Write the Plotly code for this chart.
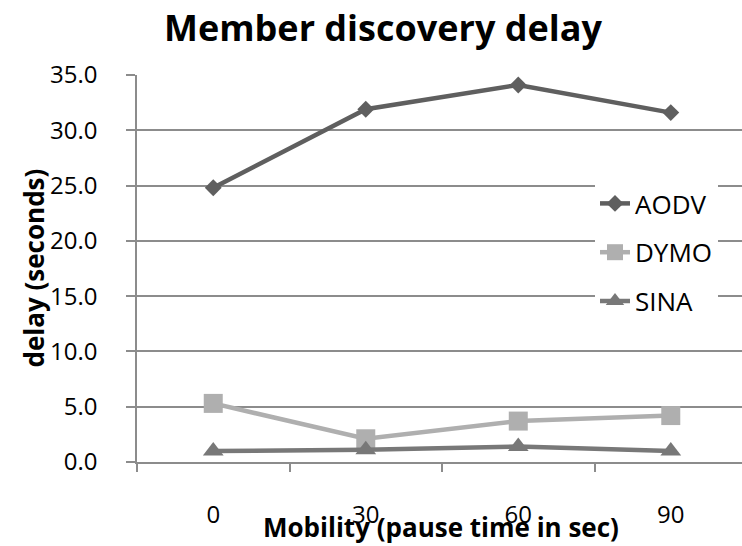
import plotly.graph_objects as go

categories = ["0", "30", "60", "90"]
aodv = [24.8, 31.9, 34.1, 31.6]
dymo = [5.3, 2.1, 3.7, 4.2]
sina = [1.0, 1.1, 1.4, 1.0]
y_ticks = [0, 5, 10, 15, 20, 25, 30, 35]

W, H = 742, 546
L, R, T, B = 137, 0, 75, 84
FONT = "Open Sans"

fig = go.Figure()
fig.add_trace(go.Scatter(x=categories, y=aodv, name="AODV", mode="lines+markers",
                         legendgroup="a",
                         line=dict(color="#5f5f5f", width=4.5),
                         marker=dict(symbol="diamond", size=13, color="#5f5f5f"),
                         cliponaxis=False))
fig.add_trace(go.Scatter(x=categories, y=dymo, name="DYMO", mode="lines+markers",
                         legendgroup="b",
                         line=dict(color="#afafaf", width=4.5),
                         marker=dict(symbol="square", size=19, color="#afafaf"),
                         cliponaxis=False))
fig.add_trace(go.Scatter(x=categories, y=sina, name="SINA", mode="lines+markers",
                         legendgroup="c",
                         line=dict(color="#787878", width=4.5),
                         marker=dict(symbol="triangle-up", size=18, color="#787878"),
                         cliponaxis=False))

pw = W - L - R
ph = H - T - B

fig.update_layout(
    width=W, height=H,
    margin=dict(l=L, r=R, t=T, b=B, autoexpand=False),
    paper_bgcolor="white", plot_bgcolor="white",
    font=dict(family=FONT, color="black"),
    title=dict(text="<b>Member discovery delay</b>", x=383 / W, xanchor="center",
               y=1 - 28 / H, yanchor="middle", yref="container",
               font=dict(size=36, family=FONT, color="black")),
    showlegend=True,
    legend=dict(x=(595 - L) / pw, xanchor="left", y=(H - B - 180) / ph, yanchor="top",
                bgcolor="white", borderwidth=0, font=dict(size=26, family=FONT),
                traceorder="grouped", tracegroupgap=12),
    xaxis=dict(type="category", range=[-0.5, 3.467], tickson="boundaries",
               ticks="outside", ticklen=8, tickcolor="#8c8c8c", tickwidth=1.5,
               showline=True, linecolor="#8c8c8c", linewidth=1.5,
               showgrid=False, zeroline=False,
               tickfont=dict(size=24, family=FONT), ticklabelstandoff=30),
    yaxis=dict(range=[0, 35], tickvals=y_ticks, tickformat=".1f",
               ticks="outside", ticklen=9, tickcolor="#8c8c8c", tickwidth=1.5,
               showline=True, linecolor="#8c8c8c", linewidth=1.5,
               showgrid=True, gridcolor="#8c8c8c", gridwidth=1.5, zeroline=False,
               tickfont=dict(size=24, family=FONT), ticklabelstandoff=24),
    annotations=[
        dict(text="<b>Mobility (pause time in sec)</b>", xref="paper", yref="paper",
             x=(441 - L) / pw, y=(H - B - 527) / ph, xanchor="center", yanchor="middle",
             showarrow=False, font=dict(size=26, family=FONT, color="black")),
        dict(text="<b>delay (seconds)</b>", xref="paper", yref="paper",
             x=(33 - L) / pw, y=0.5, xanchor="center", yanchor="middle", textangle=-90,
             showarrow=False, font=dict(size=26, family=FONT, color="black")),
    ],
)

fig.write_html("out.html")
